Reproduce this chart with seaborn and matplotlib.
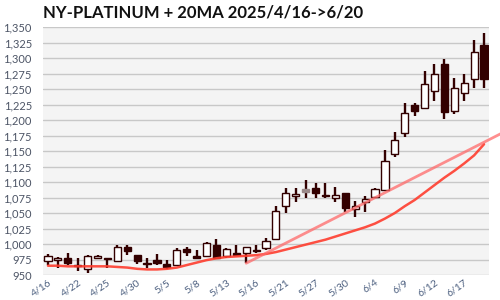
import numpy as np
import pandas as pd
import matplotlib
matplotlib.use("Agg")
import matplotlib.pyplot as plt
import seaborn as sns

dates = ["4/16","4/17","4/21","4/22","4/23","4/24","4/25","4/28","4/29","4/30",
         "5/1","5/2","5/5","5/6","5/7","5/8","5/9","5/12","5/13","5/14",
         "5/15","5/16","5/19","5/20","5/21","5/22","5/23","5/27","5/28","5/29",
         "5/30","6/2","6/3","6/4","6/5","6/6","6/9","6/10","6/11","6/12",
         "6/13","6/16","6/17","6/18","6/20"]
opens  = [973, 974, 977, 966, 960, 977, 978, 973, 995, 982,
          970, 974, 967, 966, 992, 980, 981, 998, 980, 985,
          985, 991, 993, 1008, 1061, 1078, 1086, 1090, 1079, 1075,
          1082, 1056, 1068, 1076, 1087, 1145, 1179, 1225, 1220, 1246,
          1291, 1215, 1243, 1266, 1321]
closes = [981, 977, 970, 965, 980, 981, 976, 995, 989, 973,
          968, 969, 963, 991, 987, 977, 1001, 977, 992, 982,
          995, 989, 1005, 1054, 1083, 1081, 1086, 1082, 1077, 1079,
          1058, 1062, 1072, 1088, 1134, 1167, 1212, 1214, 1258, 1274,
          1213, 1251, 1259, 1310, 1266]
highs  = [984, 979, 985, 978, 982, 983, 978, 999, 998, 983,
          977, 984, 975, 993, 995, 990, 1003, 1008, 993, 998,
          995, 998, 1009, 1061, 1090, 1090, 1104, 1098, 1099, 1092,
          1082, 1069, 1078, 1091, 1152, 1181, 1227, 1227, 1279, 1291,
          1298, 1268, 1274, 1329, 1341]
lows   = [966, 962, 966, 957, 954, 976, 962, 972, 982, 967,
          962, 966, 959, 965, 981, 977, 980, 976, 978, 981,
          969, 985, 990, 1006, 1050, 1068, 1074, 1074, 1075, 1068,
          1052, 1044, 1052, 1074, 1086, 1141, 1173, 1207, 1219, 1230,
          1202, 1209, 1231, 1251, 1252]
ma20   = [965, 965, 964, 964, 964, 964, 964, 963, 962, 960,
          959, 959, 960, 962, 966, 970, 974, 977, 979, 980,
          981, 982, 984, 987, 991, 995, 999, 1003, 1007, 1012,
          1017, 1022, 1027, 1033, 1041, 1050, 1061, 1071, 1083, 1095,
          1107, 1118, 1130, 1143, 1161]
trend_x = [20, 45.7]
trend_y = [969, 1178]
tick_every = 3
yticks = list(range(950, 1351, 25))

sns.set_theme(style="white")
plt.rcParams['font.family'] = ['Lato', 'DejaVu Sans']

fig = plt.figure(figsize=(5, 3), dpi=100)
ax = fig.add_axes([0.086, 0.0833, 0.892, 0.8267])
ax.set_facecolor("#f4f4f4")
for s in ax.spines.values():
    s.set_visible(False)
ax.set_axisbelow(True)
ax.yaxis.grid(True, color="#c8c8c8", linewidth=1)
ax.xaxis.grid(False)

df = pd.DataFrame({"i": np.arange(len(dates)), "o": opens, "c": closes,
                   "h": highs, "l": lows, "ma": ma20})

dark = "#330000"
ax.vlines(df["i"], df["l"], df["h"], color=dark, linewidth=1.7, zorder=3)
for _, r in df.iterrows():
    lo, hi = min(r.o, r.c), max(r.o, r.c)
    if r.c > r.o:
        fc, ec = "white", dark
    elif r.c < r.o:
        fc, ec = dark, dark
    else:
        fc, ec = "#9a8888", "#9a8888"
        lo, hi = r.o - 2, r.o + 2
    ax.bar(r.i, max(hi - lo, 1.2), bottom=lo, width=0.72, color=fc,
           edgecolor=ec, linewidth=1.0, zorder=4)

sns.lineplot(x=df["i"], y=df["ma"], ax=ax, color="#ff3d2e", linewidth=1.8,
             alpha=0.9, zorder=5)
tl = sns.lineplot(x=trend_x, y=trend_y, ax=ax, color="#ff6a6a", linewidth=2.0,
                  alpha=0.75, zorder=5)
tl.lines[-1].set_clip_on(False)

ax.set_xlim(-0.5, 44.5)
ax.set_ylim(950, 1350)
ax.set_yticks(yticks)
ax.set_yticklabels([f"{v:,}" for v in yticks], fontsize=8, color="#4d5566")
tpos = list(range(0, len(dates), tick_every))
ax.set_xticks(tpos)
ax.set_xticklabels([dates[i] for i in tpos], fontsize=7.5, color="#4d6080",
                   rotation=35, ha="right", va="top", rotation_mode="anchor")
ax.tick_params(axis="both", length=0)
ax.tick_params(axis="x", pad=2)
ax.tick_params(axis="y", pad=8)
ax.set_xlabel("")
ax.set_ylabel("")

fig.text(0.086, 0.958, "NY-PLATINUM + 20MA 2025/4/16->6/20", fontsize=12,
         fontweight="bold", color="#111111", va="center", ha="left")

fig.savefig("out.png", dpi=100)
